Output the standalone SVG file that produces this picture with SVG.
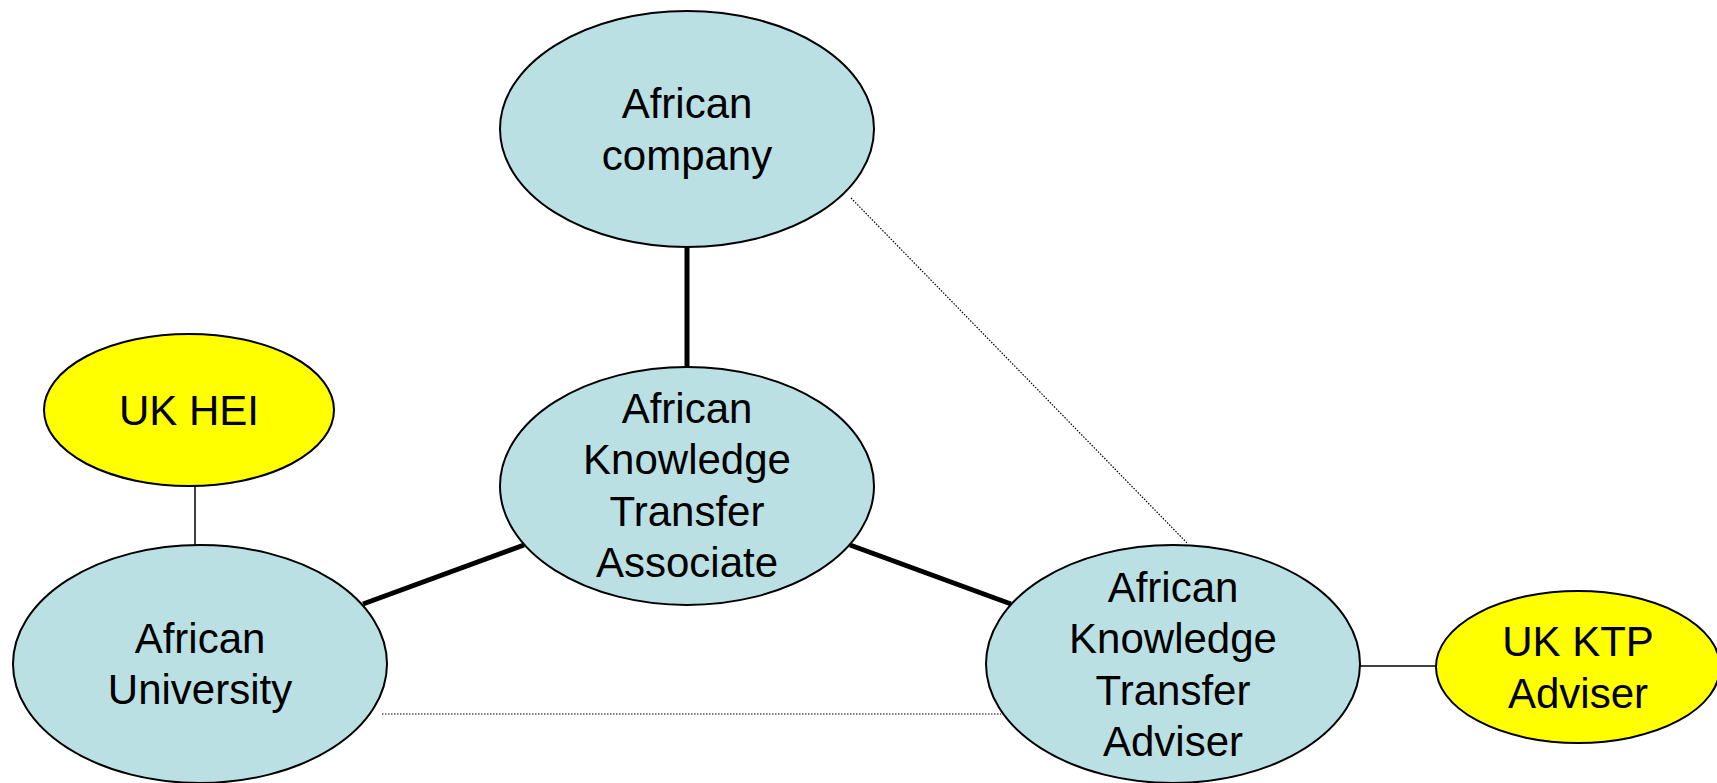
<svg xmlns="http://www.w3.org/2000/svg" width="1717" height="783" viewBox="0 0 1717 783">
<style>
.blue{fill:#BBE0E3;stroke:#000;stroke-width:2}
.yellow{fill:#FFFF00;stroke:#000;stroke-width:2}
text{font-family:"Liberation Sans",Arial,sans-serif;font-size:42px;fill:#000;text-anchor:middle}
.thick{stroke:#000;stroke-width:5;fill:none}
.thin{stroke:#000;stroke-width:1.5;fill:none}
.dot{stroke:#000;stroke-width:1.2;stroke-dasharray:1.5 1.5;fill:none}
</style>
<rect width="1717" height="783" fill="#fff"/>
<g id="connectors">
<line class="thick" x1="687" y1="248" x2="687" y2="367"/>
<line class="thin" x1="195" y1="486" x2="195" y2="545"/>
<line class="thick" x1="363" y1="604" x2="524" y2="545"/>
<line class="thick" x1="850" y1="545" x2="1011" y2="604"/>
<line class="thin" x1="1360" y1="666" x2="1436" y2="666"/>
<line class="dot" x1="851" y1="198" x2="1188" y2="544"/>
<line class="dot" x1="382" y1="714" x2="1001" y2="714"/>
</g>
<g id="african-company">
<ellipse class="blue" cx="687" cy="129" rx="187" ry="118"/>
<text x="687" y="118">African</text>
<text x="687" y="170">company</text>
</g>
<g id="akta">
<ellipse class="blue" cx="687" cy="486" rx="187" ry="119"/>
<text x="687" y="423">African</text>
<text x="687" y="474">Knowledge</text>
<text x="687" y="526">Transfer</text>
<text x="687" y="577">Associate</text>
</g>
<g id="uk-hei">
<ellipse class="yellow" cx="189" cy="410" rx="145" ry="76"/>
<text x="189" y="425">UK HEI</text>
</g>
<g id="african-university">
<ellipse class="blue" cx="200" cy="664" rx="187" ry="119"/>
<text x="200" y="653">African</text>
<text x="200" y="704">University</text>
</g>
<g id="aktadviser">
<ellipse class="blue" cx="1173" cy="664" rx="187" ry="119"/>
<text x="1173" y="602">African</text>
<text x="1173" y="653">Knowledge</text>
<text x="1173" y="705">Transfer</text>
<text x="1173" y="756">Adviser</text>
</g>
<g id="uk-ktp-adviser">
<ellipse class="yellow" cx="1578" cy="667" rx="142" ry="76"/>
<text x="1578" y="656">UK KTP</text>
<text x="1578" y="708">Adviser</text>
</g>
</svg>
